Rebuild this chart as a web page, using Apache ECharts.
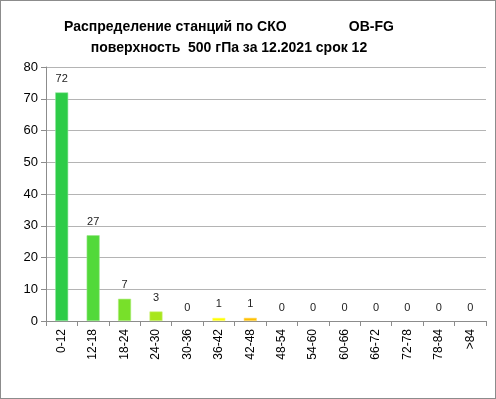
<!DOCTYPE html>
<html><head><meta charset="utf-8">
<script src="https://cdn.jsdelivr.net/npm/echarts@6/dist/echarts.min.js"></script>
<style>
html,body{margin:0;padding:0;background:#fff;}
#c{position:absolute;left:0;top:0;width:494px;height:397px;border:1px solid #8c8c8c;}
</style></head>
<body><div id="c"></div>
<script>
const categories = ['0-12','12-18','18-24','24-30','30-36','36-42','42-48','48-54','54-60','60-66','66-72','72-78','78-84','>84'];
const values = [72, 27, 7, 3, 0, 1, 1, 0, 0, 0, 0, 0, 0, 0];
const barColors = ['#2ecc48','#52d93a','#78e02a','#a8e61c','#c8ec10','#ffff00','#ffc000','#ff9900','#ff6600','#ff3300','#ff0000','#e00000','#c00000','#a00000'];
const barEdges = ['#8ee59c','#98e88c','#b0ee80','#cbf078','#ddf470','#ffff80','#ffdc70','#ffc070','#ffa070','#ff8870','#ff7070','#f07070','#e07070','#d07070'];
const titleLines = ['Распределение станций по СКО                OB-FG', 'поверхность  500 гПа за 12.2021 срок 12'];

const chart = echarts.init(document.getElementById('c'), null, {renderer:'canvas'});
const font = 'Liberation Sans';
chart.setOption({
  animation:false,
  title:{text:titleLines.join('\n'), left:223, textAlign:'center', top:11,
    textStyle:{fontFamily:font, fontSize:14, fontWeight:'bold', color:'#000', lineHeight:21}},
  grid:{left:45, right:9, top:66, bottom:77},
  xAxis:{type:'category', data:categories,
    axisLine:{lineStyle:{color:'#8c8c8c'}},
    axisTick:{show:true, length:5, lineStyle:{color:'#8c8c8c'}},
    axisLabel:{rotate:90, fontFamily:font, fontSize:12, color:'#000', margin:8}},
  yAxis:{type:'value', min:0, max:80, interval:10,
    axisLine:{show:true, lineStyle:{color:'#8c8c8c'}},
    axisTick:{show:true, length:5, lineStyle:{color:'#8c8c8c'}},
    splitLine:{lineStyle:{color:'#b4b4b4'}},
    axisLabel:{fontFamily:font, fontSize:13, color:'#000', margin:8}},
  series:[{type:'bar', barWidth:13,
    data: values.map((v,i)=>({value:v, itemStyle:{color:barColors[i], borderColor:barEdges[i], borderWidth: v>0 ? 0.6 : 0}})),
    label:{show:true, position:'top', distance:8, fontFamily:font, fontSize:11, color:'#222'}}]
});
</script></body></html>
